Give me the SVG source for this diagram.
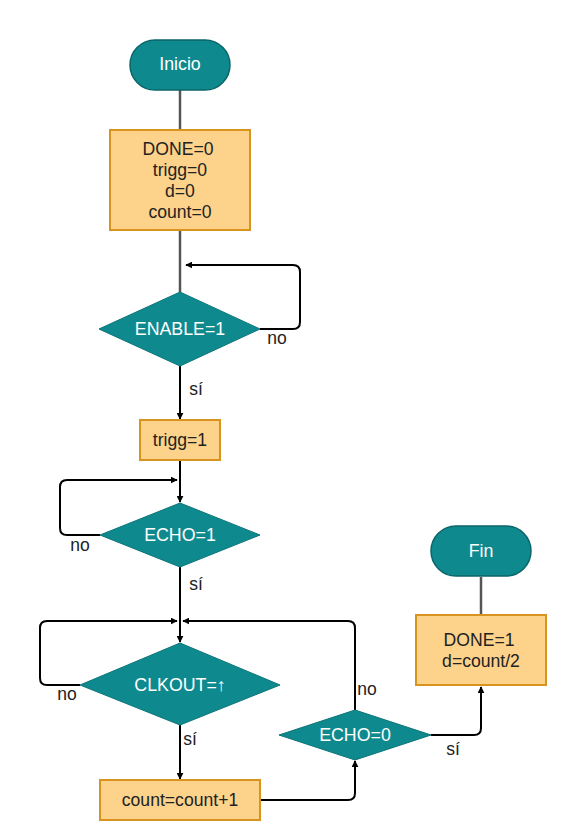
<svg xmlns="http://www.w3.org/2000/svg" width="566" height="840" viewBox="0 0 566 840">
<defs>
<marker id="arr" viewBox="0 0 10 10" refX="9" refY="5" markerWidth="7" markerHeight="7" markerUnits="userSpaceOnUse" orient="auto">
<path d="M0,0 L10,5 L0,10 Z" fill="#000"/>
</marker>
<style>
.term{fill:#0e8a8f;stroke:#0b6669;stroke-width:1.5}
.dec{fill:#0e8a8f;stroke:#0b7478;stroke-width:1}
.proc{fill:#fdd28a;stroke:#d8941f;stroke-width:2}
.wt{fill:#fff;font-family:"Liberation Sans",Arial,sans-serif;font-size:17.8px;text-anchor:middle}
.bt{fill:#222;font-family:"Liberation Sans",Arial,sans-serif;font-size:17.6px;text-anchor:middle}
.lbl{fill:#222;font-family:"Liberation Sans",Arial,sans-serif;font-size:17.5px;text-anchor:middle}
.line{fill:none;stroke:#000;stroke-width:2}
.gline{fill:none;stroke:#555;stroke-width:2.5}
</style>
</defs>
<rect width="566" height="840" fill="#fff"/>
<g id="connectors">
<path class="gline" d="M180,90 V130"/>
<path class="gline" d="M180,230 V292"/>
<path class="line" d="M260,329 H293 Q300,329 300,322 V272 Q300,265 293,265 H186" marker-end="url(#arr)"/>
<path class="line" d="M180,366 V419" marker-end="url(#arr)"/>
<path class="line" d="M180,460 V502" marker-end="url(#arr)"/>
<path class="line" d="M100,535 H67 Q60,535 60,528 V487 Q60,480 67,480 H177" marker-end="url(#arr)"/>
<path class="line" d="M180,567 V642" marker-end="url(#arr)"/>
<path class="line" d="M80,685 H47 Q40,685 40,678 V628 Q40,621 47,621 H177" marker-end="url(#arr)"/>
<path class="line" d="M355,710 V628 Q355,621 348,621 H183" marker-end="url(#arr)"/>
<path class="line" d="M180,725 V779" marker-end="url(#arr)"/>
<path class="line" d="M260,800 H348 Q355,800 355,793 V761" marker-end="url(#arr)"/>
<path class="line" d="M431,735 H474 Q481,735 481,728 V687" marker-end="url(#arr)"/>
<path class="gline" d="M481,577 V615"/>
<text class="lbl" x="277" y="344">no</text>
<text class="lbl" x="196" y="395">sí</text>
<text class="lbl" x="80" y="551">no</text>
<text class="lbl" x="196" y="590">sí</text>
<text class="lbl" x="67" y="700">no</text>
<text class="lbl" x="190" y="745">sí</text>
<text class="lbl" x="367" y="695">no</text>
<text class="lbl" x="453" y="755">sí</text>
</g>
<g id="inicio">
<rect class="term" x="130" y="40" width="100" height="50" rx="25"/>
<text class="wt" x="180" y="70">Inicio</text>
</g>
<g id="init">
<rect class="proc" x="110" y="130" width="140" height="100"/>
<text class="bt" x="178" y="154.5">DONE=0</text>
<text class="bt" x="180" y="175.5">trigg=0</text>
<text class="bt" x="180" y="196.5">d=0</text>
<text class="bt" x="180" y="217.5">count=0</text>
</g>
<g id="enable">
<polygon class="dec" points="180,292 260,329 180,366 99,329"/>
<text class="wt" x="180" y="335">ENABLE=1</text>
</g>
<g id="trigg">
<rect class="proc" x="140" y="420" width="80" height="40"/>
<text class="bt" x="180" y="446">trigg=1</text>
</g>
<g id="echo1">
<polygon class="dec" points="180,503 260,535 180,567 100,535"/>
<text class="wt" x="180" y="541">ECHO=1</text>
</g>
<g id="clkout">
<polygon class="dec" points="180,643 280,685 180,725 80,685"/>
<text class="wt" x="180" y="691">CLKOUT=↑</text>
</g>
<g id="count">
<rect class="proc" x="100" y="780" width="160" height="40"/>
<text class="bt" x="180" y="806">count=count+1</text>
</g>
<g id="echo0">
<polygon class="dec" points="355,710 431,735 355,760 279,735"/>
<text class="wt" x="355" y="741">ECHO=0</text>
</g>
<g id="done">
<rect class="proc" x="416" y="615" width="130" height="70"/>
<text class="bt" x="479" y="645.5">DONE=1</text>
<text class="bt" x="481" y="666.5">d=count/2</text>
</g>
<g id="fin">
<rect class="term" x="431" y="526" width="100" height="50" rx="25"/>
<text class="wt" x="481" y="557">Fin</text>
</g>
</svg>
